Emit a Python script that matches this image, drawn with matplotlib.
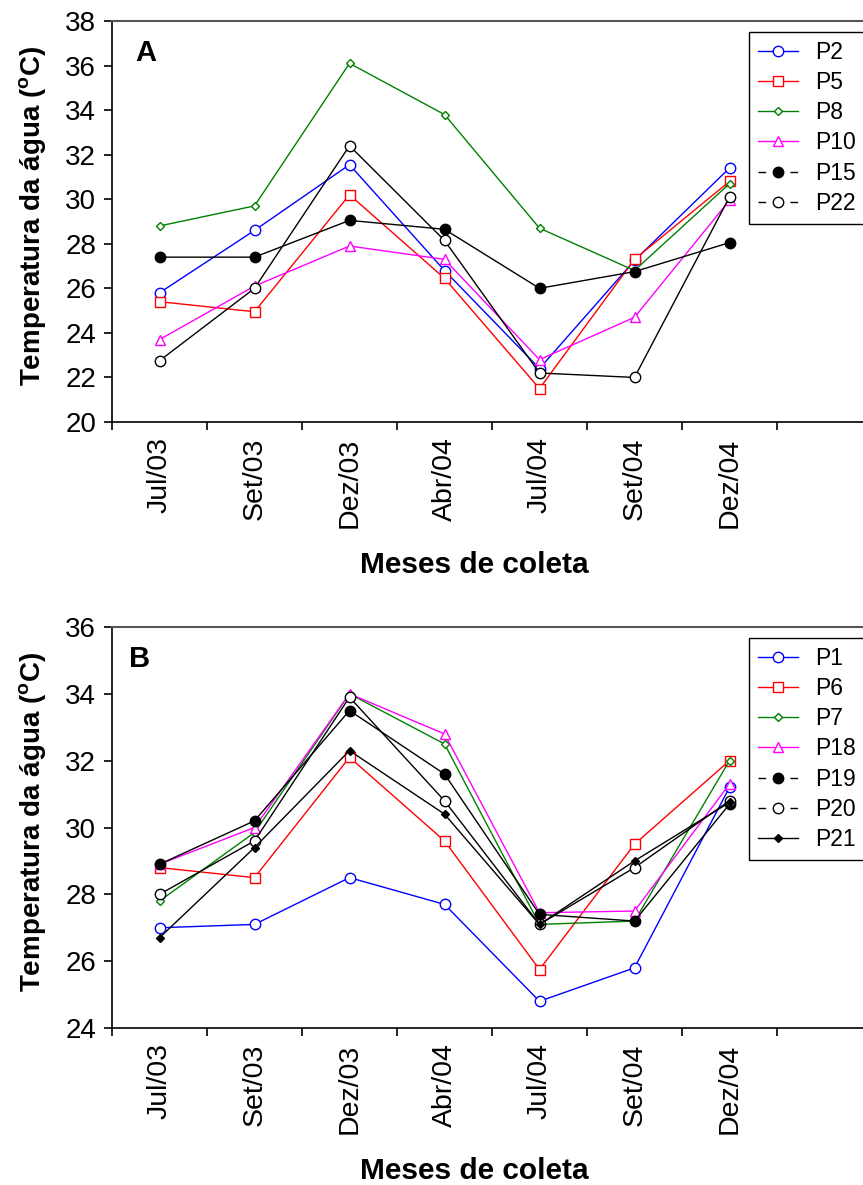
import matplotlib
matplotlib.use("Agg")
import matplotlib.pyplot as plt
from matplotlib.lines import Line2D

plt.rcParams['font.family'] = ['Liberation Sans', 'DejaVu Sans']
plt.rcParams['mathtext.fontset'] = 'custom'
plt.rcParams['mathtext.bf'] = 'Liberation Sans:bold'
plt.rcParams['mathtext.rm'] = 'Liberation Sans'

# Sampling months
months = ['Jul/03', 'Set/03', 'Dez/03', 'Abr/04', 'Jul/04', 'Set/04', 'Dez/04']

# Panel A - water temperature (deg C)
p2 = [25.8, 28.6, 31.55, 26.8, 22.4, 27.25, 31.4]
p5 = [25.4, 24.95, 30.2, 26.45, 21.5, 27.3, 30.8]
p8 = [28.8, 29.7, 36.1, 33.8, 28.7, 26.8, 30.7]
p10 = [23.7, 26.1, 27.9, 27.3, 22.8, 24.7, 29.95]
p15 = [27.4, 27.4, 29.05, 28.65, 26.0, 26.75, 28.05]
p22 = [22.75, 26.0, 32.4, 28.15, 22.2, 22.0, 30.1]

# Panel B - water temperature (deg C)
p1 = [27.0, 27.1, 28.5, 27.7, 24.8, 25.8, 31.2]
p6 = [28.8, 28.5, 32.1, 29.6, 25.75, 29.5, 32.0]
p7 = [27.8, 29.85, 34.0, 32.5, 27.1, 27.2, 32.0]
p18 = [28.9, 30.0, 34.0, 32.8, 27.45, 27.5, 31.3]
p19 = [28.9, 30.2, 33.5, 31.6, 27.4, 27.2, 30.7]
p20 = [28.0, 29.6, 33.9, 30.8, 27.1, 28.8, 30.8]
p21 = [26.7, 29.4, 32.3, 30.4, 27.1, 29.0, 30.75]

BLUE, RED, GREEN, MAG, BLK = '#0000ff', '#ff0000', '#008000', '#ff00ff', '#000000'

# (label, values, color, marker, size, filled, dashed legend handle)
series_a = [
    ('P2', p2, BLUE, 'o', 7.5, False, False),
    ('P5', p5, RED, 's', 7.0, False, False),
    ('P8', p8, GREEN, 'D', 3.8, False, False),
    ('P10', p10, MAG, '^', 7.0, False, False),
    ('P15', p15, BLK, 'o', 7.5, True, True),
    ('P22', p22, BLK, 'o', 7.5, False, True),
]
series_b = [
    ('P1', p1, BLUE, 'o', 7.5, False, False),
    ('P6', p6, RED, 's', 7.0, False, False),
    ('P7', p7, GREEN, 'D', 3.8, False, False),
    ('P18', p18, MAG, '^', 7.0, False, False),
    ('P19', p19, BLK, 'o', 7.5, True, True),
    ('P20', p20, BLK, 'o', 7.5, False, True),
    ('P21', p21, BLK, 'D', 4.0, True, False),
]

W, H = 863, 1185
fig = plt.figure(figsize=(W / 100, H / 100), dpi=100)


def draw_panel(top_px, ylim, series, tag, tag_x, legend_top_px):
    left_px, right_px, bot_px = 112, 872, top_px + 401
    ax = fig.add_axes([left_px / W, 1 - bot_px / H,
                       (right_px - left_px) / W, (bot_px - top_px) / H])
    xs = [i + 0.5 for i in range(len(months))]
    handles = []
    for label, vals, color, marker, ms, filled, dashed in series:
        face = color if filled else 'white'
        ax.plot(xs, vals, color=color, lw=1.0, marker=marker, ms=ms,
                mfc=face, mec=color, mew=1.0)
        if dashed:
            h = Line2D([], [], color=color, lw=1.0, dashes=(5.5, 17.5),
                       marker=marker, ms=ms, mfc=face, mec=color, mew=1.0)
        else:
            h = Line2D([], [], color=color, lw=1.0, marker=marker, ms=ms,
                       mfc=face, mec=color, mew=1.0)
        handles.append((h, label))

    ax.set_xlim(0, 8)
    ax.set_ylim(*ylim)
    ax.set_yticks(range(ylim[0], ylim[1] + 1, 2))
    ax.set_xticks(range(0, 8))
    ax.set_xticklabels([])
    ax.set_xticks(xs, minor=True)
    ax.set_xticklabels(months, minor=True, rotation=90, fontsize=20.5)
    ax.tick_params(axis='x', which='minor', length=0, pad=11)
    ax.tick_params(axis='x', which='major', direction='out', length=6,
                   width=1.2)
    ax.tick_params(axis='y', direction='out', length=5.5, width=1.2,
                   labelsize=20, pad=6)
    ax.spines['right'].set_visible(False)
    ax.spines['top'].set_color('#555555')
    ax.spines['top'].set_linewidth(1.5)
    for s in ('left', 'bottom'):
        ax.spines[s].set_linewidth(1.2)

    ax.text(tag_x, 0.92, tag, transform=ax.transAxes, fontsize=21,
            fontweight='bold', ha='left', va='center')

    fig.text(33 / W, 1 - (top_px + 195) / H,
             r'Temperatura da água ($\mathbf{^{o}}$C)',
             rotation=90, fontsize=20, fontweight='bold',
             ha='center', va='center')
    fig.text(474 / W, 1 - (top_px + 544) / H, 'Meses de coleta',
             fontsize=21.5, fontweight='bold', ha='center', va='center')

    # legend box runs past the right edge of the figure
    leg = ax.legend([h for h, _ in handles], [l for _, l in handles],
                    loc='upper left', mode='expand',
                    bbox_to_anchor=(749 / W, 1 - legend_top_px / H,
                                    140 / W, 0),
                    bbox_transform=fig.transFigure, borderaxespad=0,
                    fontsize=16.5, numpoints=1, handlelength=1.75,
                    handletextpad=0.75, labelspacing=0.31, borderpad=0.4,
                    fancybox=False, framealpha=1, edgecolor='black')
    leg.get_frame().set_linewidth(1.0)
    return ax


draw_panel(21, (20, 38), series_a, 'A', 0.03, 32)
draw_panel(627, (24, 36), series_b, 'B', 0.022, 638)

fig.savefig('out.png', dpi=100)
